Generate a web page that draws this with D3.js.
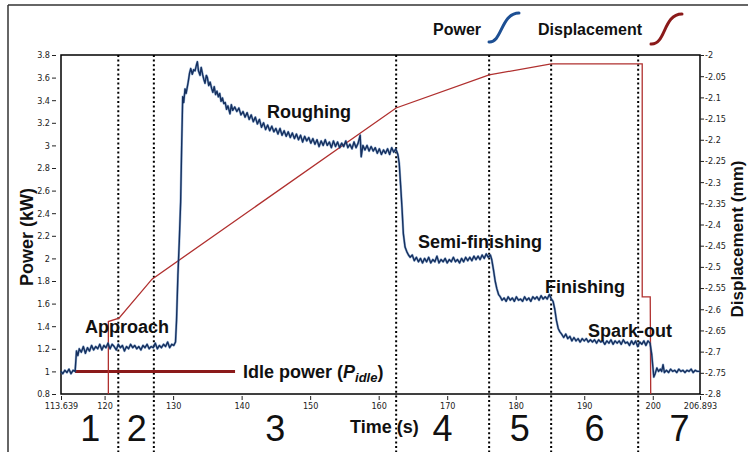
<!DOCTYPE html>
<html><head><meta charset="utf-8">
<script src="https://cdn.jsdelivr.net/npm/d3@7"></script>
<style>
html,body{margin:0;padding:0;background:#fff;}
svg{display:block;}
</style></head><body>
<svg id="chart" width="748" height="452"></svg>
<script>
// ---------- DATA ----------
const powerSeries = [
[113.64,1.00],[113.9,0.98],[114.2,1.01],[114.5,0.99],[114.8,1.02],[115.1,0.98],[115.4,1.01],[115.7,1.00],
[115.9,1.18],[116.1,1.14],[116.3,1.20],[116.6,1.17],[116.9,1.22],[117.2,1.16],[117.5,1.21],[117.8,1.18],[118.1,1.23],[118.4,1.19],[118.7,1.22],[119.0,1.20],[119.3,1.24],[119.6,1.19],[119.9,1.23],[120.2,1.21],[120.5,1.25],[120.8,1.20],[121.1,1.24],[121.4,1.22],[121.7,1.19],[122.0,1.24],[122.3,1.21],[122.6,1.23],[122.9,1.18],[123.2,1.22],[123.5,1.20],[123.8,1.24],[124.1,1.21],[124.4,1.23],[124.7,1.20],[125.0,1.22],[125.3,1.19],[125.6,1.23],[125.9,1.21],[126.2,1.24],[126.5,1.20],[126.8,1.22],[127.1,1.21],[127.4,1.25],[127.7,1.20],[128.0,1.23],[128.3,1.21],[128.6,1.24],[128.9,1.22],[129.2,1.26],[129.5,1.21],[129.8,1.24],[130.1,1.23],[130.35,1.26],
[130.5,1.45],[130.7,1.85],[130.9,2.15],[131.1,2.5],[131.25,3.0],[131.4,3.43],[131.55,3.38],[131.74,3.50],[131.9,3.46],[132.2,3.56],[132.4,3.64],[132.57,3.68],[132.8,3.63],[133.0,3.67],[133.2,3.66],[133.4,3.71],[133.54,3.74],[133.7,3.66],[133.93,3.62],[134.1,3.69],[134.3,3.63],[134.5,3.58],[134.66,3.55],[134.85,3.62],[135.0,3.60],[135.2,3.53],[135.4,3.56],[135.64,3.50],[135.8,3.47],[136.0,3.52],[136.2,3.45],[136.4,3.48],[136.6,3.43],[136.8,3.46],[137.0,3.39],[137.2,3.42],[137.4,3.37],[137.6,3.38],[137.8,3.32],[138.0,3.35],[138.3,3.28],[138.5,3.36],[138.7,3.31],[139.0,3.34],[139.3,3.30],[139.6,3.33],[139.9,3.27],[140.2,3.30],[140.5,3.25],[140.8,3.29],[141.1,3.23],[141.4,3.27],[141.7,3.21],[142.0,3.25],[142.3,3.19],[142.6,3.23],[142.9,3.16],[143.2,3.20],[143.5,3.14],[143.8,3.18],[144.1,3.13],[144.4,3.17],[144.7,3.12],[145.0,3.15],[145.3,3.10],[145.6,3.15],[145.9,3.09],[146.2,3.13],[146.5,3.08],[146.8,3.12],[147.1,3.07],[147.4,3.11],[147.7,3.06],[148.0,3.10],[148.3,3.05],[148.6,3.09],[148.9,3.03],[149.2,3.08],[149.5,3.04],[149.8,3.07],[150.1,3.02],[150.4,3.06],[150.7,3.01],[151.0,3.05],[151.3,2.99],[151.6,3.04],[151.9,3.00],[152.2,3.05],[152.5,3.00],[152.8,3.03],[153.1,2.98],[153.4,3.04],[153.7,2.99],[154.0,3.03],[154.3,2.98],[154.6,3.02],[154.9,2.99],[155.2,3.04],[155.5,2.98],[155.8,3.01],[156.1,2.97],[156.4,3.03],[156.7,2.98],[157.0,3.02],[157.3,3.09],[157.45,2.90],[157.7,3.00],[158.0,2.96],[158.3,3.00],[158.6,2.95],[158.9,2.99],[159.2,2.95],[159.5,2.98],[159.8,2.93],[160.1,2.97],[160.4,2.92],[160.7,2.96],[161.0,2.93],[161.3,2.97],[161.6,2.92],[161.9,2.98],[162.2,2.94],[162.5,2.97],[162.8,2.92],
[163.0,2.84],[163.2,2.65],[163.4,2.45],[163.6,2.22],[163.85,2.10],[164.1,2.06],[164.35,2.03],[164.6,2.01],[164.9,2.03],[165.2,1.98],[165.5,2.01],[165.8,1.97],[166.1,2.00],[166.4,1.96],[166.7,2.00],[167.0,1.97],[167.3,2.01],[167.6,1.96],[167.9,1.99],[168.2,1.97],[168.5,2.02],[168.8,1.96],[169.1,1.99],[169.4,1.97],[169.7,2.00],[170.0,1.96],[170.3,1.99],[170.6,1.97],[170.9,2.01],[171.2,1.97],[171.5,1.99],[171.8,1.96],[172.1,2.00],[172.4,1.97],[172.7,2.01],[173.0,1.98],[173.3,2.01],[173.6,1.98],[173.9,2.02],[174.2,1.99],[174.5,2.02],[174.8,1.99],[175.1,2.03],[175.4,2.00],[175.7,2.04],[176.0,2.01],[176.3,2.03],[176.5,1.99],
[176.75,1.90],[177.0,1.80],[177.25,1.73],[177.5,1.68],[177.75,1.66],[178.0,1.63],[178.3,1.65],[178.6,1.62],[178.9,1.66],[179.2,1.63],[179.5,1.65],[179.8,1.62],[180.1,1.66],[180.4,1.63],[180.7,1.64],[181.0,1.62],[181.3,1.66],[181.6,1.63],[181.9,1.65],[182.2,1.62],[182.5,1.66],[182.8,1.64],[183.1,1.66],[183.4,1.63],[183.7,1.67],[184.0,1.64],[184.3,1.66],[184.6,1.64],[184.9,1.68],[185.2,1.64],[185.45,1.62],
[185.7,1.55],[185.95,1.45],[186.2,1.38],[186.45,1.35],[186.7,1.33],[187.0,1.30],[187.3,1.33],[187.6,1.29],[187.9,1.31],[188.2,1.27],[188.5,1.30],[188.8,1.27],[189.1,1.29],[189.4,1.26],[189.7,1.29],[190.0,1.27],[190.3,1.29],[190.6,1.26],[190.9,1.28],[191.2,1.26],[191.5,1.28],[191.8,1.25],[192.1,1.28],[192.4,1.26],[192.7,1.27],[193.0,1.24],[193.3,1.27],[193.6,1.25],[193.9,1.28],[194.2,1.24],[194.5,1.27],[194.8,1.25],[195.1,1.27],[195.4,1.24],[195.7,1.28],[196.0,1.25],[196.3,1.26],[196.6,1.23],[196.9,1.27],[197.2,1.24],[197.5,1.27],[197.8,1.22],[198.1,1.26],[198.4,1.24],[198.7,1.27],[199.0,1.23],[199.3,1.27],[199.6,1.25],
[199.85,1.15],[200.0,1.05],[200.15,0.95],[200.35,0.98],[200.6,1.03],[200.85,1.00],[201.1,1.02],[201.3,1.00],[201.5,1.06],[201.7,0.99],[202.0,1.01],[202.3,0.99],[202.6,1.02],[202.9,1.00],[203.2,1.01],[203.5,0.99],[203.8,1.02],[204.1,1.00],[204.4,1.01],[204.7,0.99],[205.0,1.01],[205.3,1.00],[205.6,1.02],[205.9,0.99],[206.2,1.01],[206.5,1.00],[206.89,1.00]
];
const displacementSeries = [
[120.55,-2.80],[120.55,-2.629],[122.1,-2.621],[126.92,-2.529],[162.54,-2.125],[176.12,-2.047],[185.17,-2.021],[198.46,-2.021],[198.46,-2.571],[199.63,-2.571],[199.7,-2.80]
];
const idlePower = 1.0;
const idleSpan = [115.68, 139.04];
const phaseBoundaries = [122.0, 127.19, 162.55, 176.12, 185.17, 197.87];
const phaseLabels = ["1","2","3","4","5","6","7"];
const phaseCenters = [117.9, 124.7, 144.9, 169.3, 180.6, 191.5, 203.9];
const powerTicks = [0.8,1,1.2,1.4,1.6,1.8,2,2.2,2.4,2.6,2.8,3,3.2,3.4,3.6,3.8];
const dispTicks = [-2.8,-2.75,-2.7,-2.65,-2.6,-2.55,-2.5,-2.45,-2.4,-2.35,-2.3,-2.25,-2.2,-2.15,-2.1,-2.05,-2];
const timeTicks = [113.639,120,130,140,150,160,170,180,190,200,206.893];

// ---------- LAYOUT ----------
const L = 61, R = 700, T = 55, B = 394;
const svg = d3.select("#chart");
const x = d3.scaleLinear().domain([113.639, 206.893]).range([L, R]);
const yP = d3.scaleLinear().domain([0.8, 3.8]).range([B, T]);
const yD = d3.scaleLinear().domain([-2.8, -2]).range([B, T]);
const tickFont = "'Liberation Sans Narrow','DejaVu Sans Condensed',sans-serif";
const boldFont = "'Liberation Sans',Arial,sans-serif";

// outer figure border
svg.append("line").attr("x1",8).attr("x2",8).attr("y1",5).attr("y2",452).attr("stroke","#333").attr("stroke-width",1.5);
svg.append("line").attr("x1",8).attr("x2",748).attr("y1",5).attr("y2",5).attr("stroke","#333").attr("stroke-width",1.5);

// plot frame
svg.append("rect").attr("x",L).attr("y",T).attr("width",R-L).attr("height",B-T)
  .attr("fill","none").attr("stroke","#000").attr("stroke-width",1.5);

// axes
const fmt = d => String(+d.toFixed(3));
const gl = svg.append("g").attr("transform",`translate(${L-5},0)`)
  .call(d3.axisLeft(yP).tickValues(powerTicks).tickSize(4).tickPadding(2).tickFormat(fmt));
const gr = svg.append("g").attr("transform",`translate(${R},0)`)
  .call(d3.axisRight(yD).tickValues(dispTicks).tickSize(4).tickPadding(1).tickFormat(fmt));
const gb = svg.append("g").attr("transform",`translate(0,${B+2})`)
  .call(d3.axisBottom(x).tickValues(timeTicks).tickSize(4).tickPadding(3).tickFormat(fmt));
[gl,gr,gb].forEach(g=>{
  g.select(".domain").remove();
  g.selectAll(".tick line").attr("stroke","#222").attr("stroke-width",1);
  g.selectAll(".tick text").attr("fill","#222").style("font-family",tickFont).style("font-size","9px");
});

// phase dotted lines
svg.append("g").selectAll("line").data(phaseBoundaries).join("line")
  .attr("x1",d=>x(d)).attr("x2",d=>x(d)).attr("y1",T).attr("y2",452)
  .attr("stroke","#000").attr("stroke-width",2).attr("stroke-dasharray","2,2.6");

// idle power line
svg.append("line").attr("x1",x(idleSpan[0])).attr("x2",x(idleSpan[1]))
  .attr("y1",yP(idlePower)).attr("y2",yP(idlePower))
  .attr("stroke","#8b1a1a").attr("stroke-width",3);

// displacement line
svg.append("path").datum(displacementSeries)
  .attr("d", d3.line().x(d=>x(d[0])).y(d=>yD(d[1])))
  .attr("fill","none").attr("stroke","#b0302f").attr("stroke-width",1.3);

// power line
svg.append("path").datum(powerSeries)
  .attr("d", d3.line().x(d=>x(d[0])).y(d=>yP(d[1])))
  .attr("fill","none").attr("stroke","#3f6fb0").attr("stroke-width",2.4).attr("stroke-opacity",0.5).attr("stroke-linejoin","round");
svg.append("path").datum(powerSeries)
  .attr("d", d3.line().x(d=>x(d[0])).y(d=>yP(d[1])))
  .attr("fill","none").attr("stroke","#15305f").attr("stroke-width",1.4).attr("stroke-linejoin","round");

// phase numbers
svg.append("g").selectAll("text").data(phaseLabels).join("text")
  .attr("x",(d,i)=>x(phaseCenters[i])).attr("y",441).attr("text-anchor","middle")
  .style("font-family",boldFont).style("font-size","36px").attr("fill","#111").text(d=>d);

// annotations
const ann = [
  {t:"Roughing", x:267, y:118},
  {t:"Semi-finishing", x:418, y:248},
  {t:"Finishing", x:545, y:293},
  {t:"Spark-out", x:588, y:337},
  {t:"Approach", x:85, y:333},
  {t:"Time (s)", x:350, y:433}
];
svg.append("g").selectAll("text").data(ann).join("text")
  .attr("x",d=>d.x).attr("y",d=>d.y)
  .style("font-family",boldFont).style("font-size","18px").style("font-weight","bold").attr("fill","#111").text(d=>d.t);

const idle = svg.append("text").attr("x",243).attr("y",378)
  .style("font-family",boldFont).style("font-size","18px").style("font-weight","bold").attr("fill","#111");
idle.append("tspan").text("Idle power (");
idle.append("tspan").style("font-style","italic").text("P");
idle.append("tspan").style("font-style","italic").style("font-size","13px").attr("dy",4).text("idle");
idle.append("tspan").attr("dy",-4).text(")");

// axis titles
svg.append("text").attr("transform","translate(33,237) rotate(-90)").attr("text-anchor","middle")
  .style("font-family",boldFont).style("font-size","18px").style("font-weight","bold").attr("fill","#111").text("Power (kW)");
svg.append("text").attr("transform","translate(743,239) rotate(-90)").attr("text-anchor","middle")
  .style("font-family",boldFont).style("font-size","17px").style("font-weight","bold").attr("fill","#111").text("Displacement (mm)");

// legend
svg.append("text").attr("x",433).attr("y",35).style("font-family",boldFont).style("font-size","16px").style("font-weight","bold").attr("fill","#111").text("Power");
svg.append("path").attr("d","M489,42 C502,43 501,13 519,13").attr("fill","none").attr("stroke","#1d4f93").attr("stroke-width",3).attr("stroke-linecap","round");
svg.append("text").attr("x",538).attr("y",35).style("font-family",boldFont).style("font-size","16px").style("font-weight","bold").attr("fill","#111").text("Displacement");
svg.append("path").attr("d","M651,44 C666,45 663,14 682,14").attr("fill","none").attr("stroke","#8b1a1a").attr("stroke-width",3).attr("stroke-linecap","round");
</script>
</body></html>
